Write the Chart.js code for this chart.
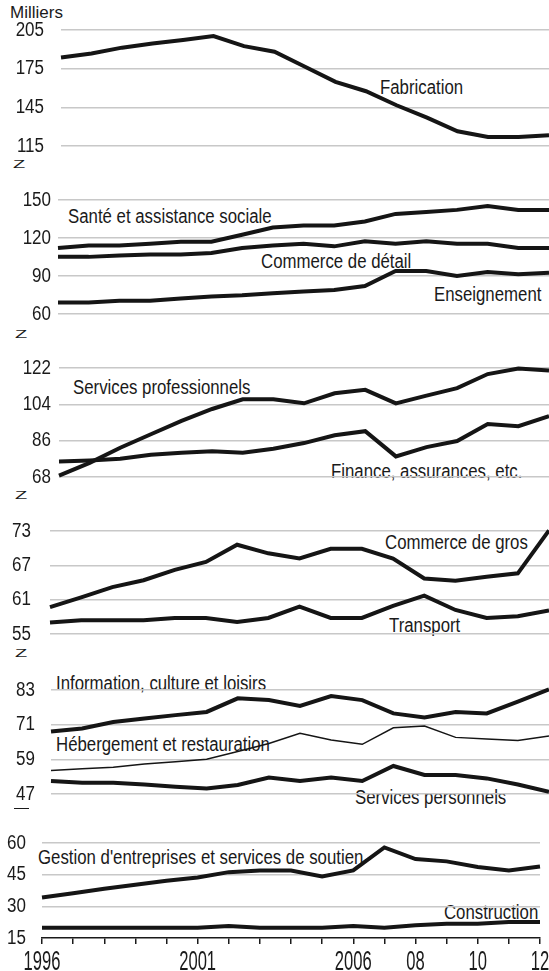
<!DOCTYPE html>
<html lang="fr">
<head>
<meta charset="UTF-8" />
<title>Emploi par secteur</title>
<script src="https://cdn.jsdelivr.net/npm/chart.js"></script>
<style>
  body { margin: 0; background: #fff; }
  #page {
    position: relative; width: 549px; height: 971px; overflow: hidden;
    font-family: 'Liberation Sans', Arial, sans-serif; color: #1a1a1a;
  }
  #page canvas { position: absolute; left: 0; }
  .lbl {
    position: absolute; font-size: 20px; line-height: 20px; white-space: nowrap;
    transform: scaleX(0.84); transform-origin: left top;
  }
  .lbl.r { transform-origin: right top; }
  .brk { position: absolute; font-size: 20px; line-height: 20px; transform: scaleY(0.55); transform-origin: top left; }
  .brk2 { position: absolute; width: 15px; height: 0; border-top: 1.5px solid #1a1a1a; }
</style>
</head>
<body>
<div id="page">
  <div class="lbl" style="left:10px; top:4px; font-size:17px; line-height:17px; transform:none;">Milliers</div>

  <div class="lbl" style="left:380px; top:77px;">Fabrication</div>
  <div class="lbl" style="left:68px; top:206px;">Santé et assistance sociale</div>
  <div class="lbl" style="left:261px; top:251px;">Commerce de détail</div>
  <div class="lbl" style="left:434px; top:284px;">Enseignement</div>
  <div class="lbl" style="left:73px; top:377px;">Services professionnels</div>
  <div class="lbl" style="left:331px; top:461px;">Finance, assurances, etc.</div>
  <div class="lbl" style="left:385px; top:532px;">Commerce de gros</div>
  <div class="lbl" style="left:389px; top:615px;">Transport</div>
  <div class="lbl" style="left:56px; top:673px;">Information, culture et loisirs</div>
  <div class="lbl" style="left:56px; top:734px;">Hébergement et restauration</div>
  <div class="lbl" style="left:355px; top:787px;">Services personnels</div>
  <div class="lbl" style="left:38px; top:847px;">Gestion d'entreprises et services de soutien</div>
  <div class="lbl r" style="right:11px; top:902px;">Construction</div>

  <div class="brk" style="left:13px; top:159px;">Z</div>
  <div class="brk" style="left:15px; top:329px;">Z</div>
  <div class="brk" style="left:15px; top:490px;">Z</div>
  <div class="brk" style="left:15px; top:648px;">Z</div>
  <div class="brk2" style="left:14px; top:808px;"></div>
</div>

<script>
  const FONT = "'Liberation Sans', Arial, sans-serif";

  const years = [1996, 1997, 1998, 1999, 2000, 2001, 2002, 2003, 2004, 2005, 2006, 2007, 2008, 2009, 2010, 2011, 2012];
  const xTickLabels = ['1996', '', '', '', '', '2001', '', '', '', '', '2006', '', '08', '', '10', '', '12'];

  const fabrication  = [183.7, 186.8, 191.3, 194.6, 197.2, 200.3, 192.5, 188.1, 176.5, 164.8, 157.5, 146.6, 137, 126.4, 122, 122, 123.3];
  const sante        = [112.1, 114, 114, 115.5, 117, 117, 122.6, 128.3, 129.9, 129.9, 133, 139, 140.6, 142.2, 145.3, 142.2, 142.2];
  const detail       = [105.1, 105.1, 106.1, 106.9, 106.9, 108.2, 112.1, 114, 115.5, 113.4, 117.4, 115.5, 117.4, 115.5, 115.5, 112.1, 112.1];
  const enseignement = [69.1, 69.1, 70.4, 70.4, 72.2, 73.8, 74.8, 76.4, 77.7, 79, 82.1, 93.9, 93.9, 90, 93.1, 91.3, 92.6];
  const servPro      = [68.7, 75, 82.5, 89.2, 95.8, 101.7, 106.5, 106.5, 104.5, 109.5, 111.2, 104.5, 108.3, 112, 119, 121.7, 120.8];
  const finance      = [75.7, 76.2, 77, 79, 80, 80.8, 80, 82, 84.8, 88.7, 90.7, 78.2, 82.8, 85.8, 94.2, 93.2, 98.2];
  const gros         = [59.7, 61.4, 63.2, 64.4, 66.2, 67.6, 70.6, 69.1, 68.2, 69.9, 69.9, 68.2, 64.7, 64.3, 65, 65.6, 73.1];
  const transport    = [57, 57.4, 57.4, 57.4, 57.8, 57.8, 57.1, 57.8, 59.8, 57.8, 57.8, 59.9, 61.7, 59.2, 57.8, 58.1, 59.1];
  const info         = [68.6, 69.7, 71.9, 73.1, 74.3, 75.4, 80.1, 79.5, 77.5, 80.9, 79.5, 74.9, 73.5, 75.4, 74.9, 79, 83.2];
  const hebergement  = [55.1, 55.7, 56.3, 57.4, 58.2, 59, 61.7, 64.5, 68, 65.7, 64.2, 69.9, 70.5, 66.6, 66, 65.5, 67.1];
  const servPerso    = [51.5, 50.9, 50.9, 50.3, 49.5, 48.9, 50.1, 52.7, 51.5, 52.7, 51.5, 56.7, 53.6, 53.6, 52.4, 50.3, 47.8];
  const gestion      = [34.2, 36.2, 38.3, 40.2, 42.1, 43.7, 46.2, 47, 47, 44.1, 47, 57.9, 52.4, 51.3, 48.6, 47, 48.9];
  const construction = [19.9, 19.9, 19.9, 19.9, 19.9, 19.9, 20.7, 19.9, 19.9, 19.9, 20.7, 19.9, 21, 21.8, 21.8, 22.6, 22.6];

  // one chart per panel: top/bottom = pixel rows of the top and bottom gridlines
  const panels = [
    { top: 30,  bottom: 146, left: 61, labelRight: 44, right: 549, min: 115, max: 205, step: 30, lines: [[fabrication, 4]] },
    { top: 200, bottom: 314, left: 58, labelRight: 51, right: 549, min: 60,  max: 150, step: 30, lines: [[sante, 4], [detail, 4], [enseignement, 4]] },
    { top: 368, bottom: 477, left: 59, labelRight: 51, right: 549, min: 68,  max: 122, step: 18, lines: [[servPro, 4], [finance, 4]] },
    { top: 531, bottom: 634, left: 50, labelRight: 31, right: 549, min: 55,  max: 73,  step: 6,  lines: [[gros, 4], [transport, 4]] },
    { top: 690, bottom: 794, left: 51, labelRight: 35, right: 549, min: 47,  max: 83,  step: 12, lines: [[info, 4], [hebergement, 1.5], [servPerso, 4]] },
    { top: 843, bottom: 938, left: 42, labelRight: 26, right: 540, min: 15,  max: 60,  step: 15, lines: [[gestion, 4], [construction, 4]], axis: true }
  ];

  // narrow-looking tick labels: drawn with a horizontal squeeze
  const yLabelPlugin = {
    id: 'yLabels',
    afterDraw(chart, args, opts) {
      const ys = chart.scales.y;
      const ctx = chart.ctx;
      ctx.save();
      ctx.fillStyle = '#1a1a1a';
      ctx.font = '20px ' + FONT;
      ctx.textAlign = 'right';
      ctx.textBaseline = 'middle';
      ys.ticks.forEach(t => {
        ctx.save();
        ctx.translate(opts.right, ys.getPixelForValue(t.value));
        ctx.scale(0.85, 1);
        ctx.fillText(String(t.value), 0, 0);
        ctx.restore();
      });
      ctx.restore();
    }
  };

  const xLabelPlugin = {
    id: 'xLabels',
    afterDraw(chart) {
      const xs = chart.scales.x;
      const ctx = chart.ctx;
      ctx.save();
      ctx.fillStyle = '#1a1a1a';
      ctx.font = '20px ' + FONT;
      ctx.textAlign = 'center';
      ctx.textBaseline = 'alphabetic';
      xTickLabels.forEach((t, i) => {
        if (!t) return;
        ctx.save();
        ctx.translate(xs.getPixelForTick(i), xs.top + 32);
        ctx.scale(0.83, 1.4);
        ctx.fillText(t, 0, 0);
        ctx.restore();
      });
      ctx.restore();
    }
  };

  const page = document.getElementById('page');

  panels.forEach(p => {
    const canvasTop = p.top - 12;
    const height = p.axis ? 971 - canvasTop : p.bottom - p.top + 24;
    const canvas = document.createElement('canvas');
    canvas.width = 549;
    canvas.height = height;
    canvas.style.top = canvasTop + 'px';
    page.appendChild(canvas);

    const xScale = {
      display: !!p.axis,
      offset: false,
      grid: { drawOnChartArea: false, drawTicks: true, tickLength: 6, color: '#1a1a1a', lineWidth: 1.5 },
      border: { display: true, color: '#1a1a1a', width: 1.5 },
      ticks: { display: false, autoSkip: false, maxRotation: 0 }
    };
    if (p.axis) xScale.afterFit = scale => { scale.height = 971 - p.bottom; };

    new Chart(canvas.getContext('2d'), {
      type: 'line',
      data: {
        labels: years,
        datasets: p.lines.map(([values, w]) => ({
          data: values,
          borderColor: '#151515',
          borderWidth: w,
          pointRadius: 0,
          tension: 0,
          clip: false
        }))
      },
      options: {
        responsive: false,
        animation: false,
        events: [],
        layout: { padding: { top: 12, bottom: p.axis ? 0 : 12, left: 0, right: 549 - p.right } },
        plugins: {
          legend: { display: false },
          tooltip: { enabled: false },
          yLabels: { right: p.labelRight }
        },
        scales: {
          x: xScale,
          y: {
            min: p.min,
            max: p.max,
            ticks: { stepSize: p.step, display: false, autoSkip: false },
            grid: {
              drawTicks: false,
              lineWidth: 1.5,
              color: ctx => (p.axis && ctx.tick && ctx.tick.value === p.min) ? 'rgba(0,0,0,0)' : '#c8c8c8'
            },
            border: { display: false },
            afterFit(scale) { scale.width = p.left; }
          }
        }
      },
      plugins: p.axis ? [yLabelPlugin, xLabelPlugin] : [yLabelPlugin]
    });
  });
</script>
</body>
</html>
